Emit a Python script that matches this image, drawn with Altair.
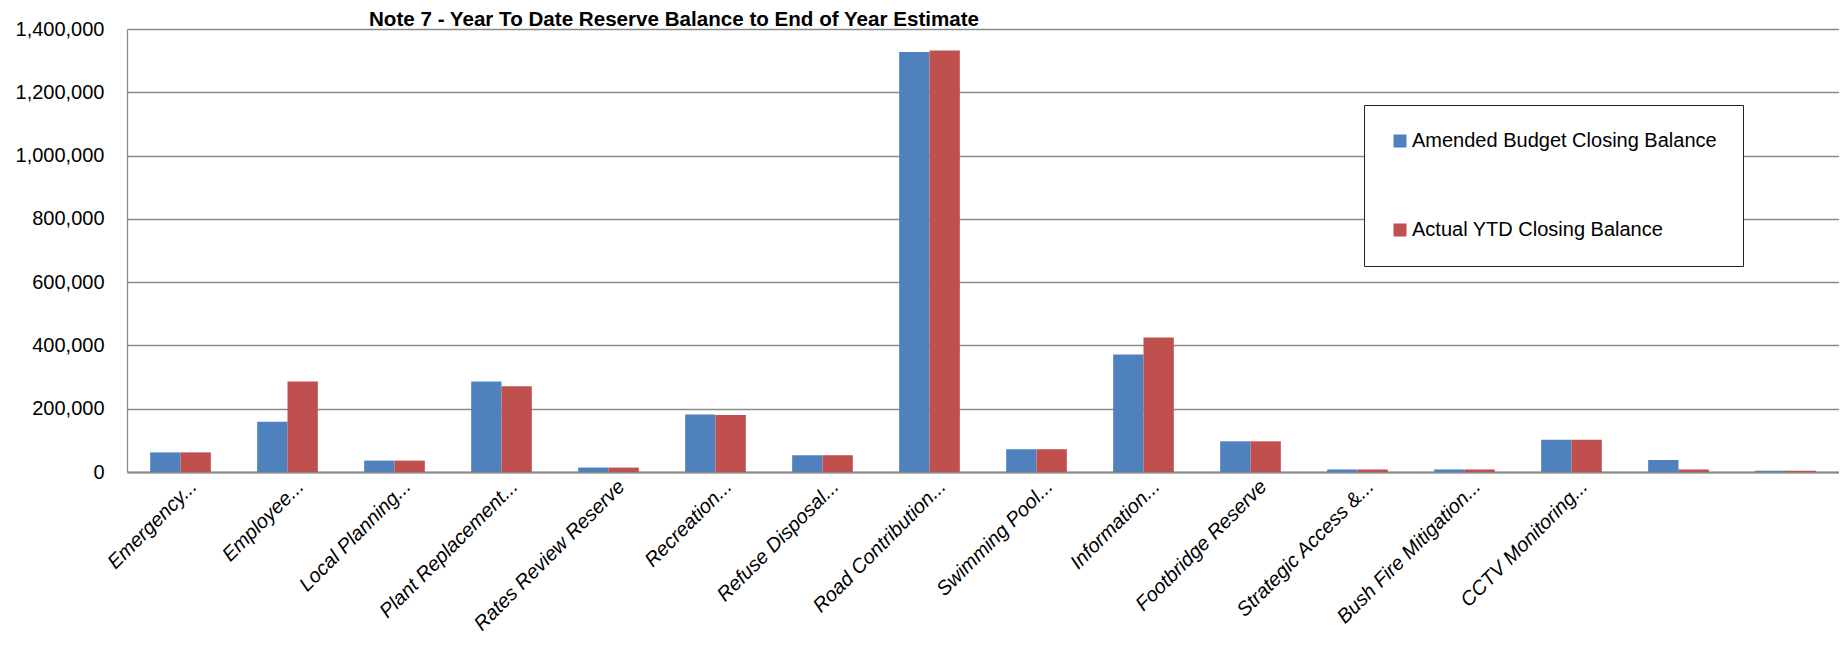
import json
import altair as alt
import pandas as pd

categories = [
    "Emergency...", "Employee...", "Local Planning...", "Plant Replacement...",
    "Rates Review Reserve", "Recreation...", "Refuse Disposal...", "Road Contribution...",
    "Swimming Pool...", "Information...", "Footbridge Reserve", "Strategic Access &...",
    "Bush Fire Mitigation...", "CCTV Monitoring...", "", "",
]
series = ["Amended Budget Closing Balance", "Actual YTD Closing Balance"]
budget = [62000, 159000, 36000, 286000, 14000, 182000, 53000, 1327000,
          72000, 371000, 97000, 8000, 8000, 102000, 38000, 4000]
actual = [62000, 286000, 36000, 271000, 14000, 180000, 53000, 1332000,
          72000, 425000, 97000, 8000, 8000, 102000, 8000, 4000]
colors = ["#4F81BD", "#C0504D"]
y_ticks = [0, 200000, 400000, 600000, 800000, 1000000, 1200000, 1400000]
title_text = "Note 7 - Year To Date Reserve Balance to End of Year Estimate"

rows = []
for i in range(len(categories)):
    rows.append({"idx": i, "series": series[0], "value": budget[i]})
    rows.append({"idx": i, "series": series[1], "value": actual[i]})
df = pd.DataFrame(rows)

FONT = "Liberation Sans"
GRID = "#8a8a8a"
label_expr = json.dumps(categories) + "[datum.value]"

chart = alt.Chart(df).mark_bar().encode(
    x=alt.X(
        "idx:O",
        scale=alt.Scale(paddingInner=0.433, paddingOuter=0.2165),
        axis=alt.Axis(
            title=None, labelExpr=label_expr, labelAngle=315, labelFontStyle="italic",
            labelFontSize=20, labelFont=FONT, labelColor="black", labelPadding=4,
            labelOffset=6, ticks=False, tickSize=0, domainColor=GRID, domainWidth=2,
            labelLimit=400,
        ),
    ),
    xOffset=alt.XOffset("series:N", sort=series, scale=alt.Scale(paddingInner=0, paddingOuter=0)),
    y=alt.Y(
        "value:Q",
        scale=alt.Scale(domain=[0, 1400000], nice=False),
        axis=alt.Axis(
            title=None, values=y_ticks, format=",d", labelFontSize=20, labelFont=FONT,
            labelColor="black", labelPadding=23, ticks=False, tickSize=0,
            gridColor=GRID, gridWidth=1.3, domainColor=GRID, domainWidth=1.3,
        ),
    ),
    color=alt.Color(
        "series:N", sort=series,
        scale=alt.Scale(domain=series, range=colors),
        legend=alt.Legend(
            title=None, orient="none", legendX=1237, legendY=76,
            labelFontSize=20, labelFont=FONT, labelColor="black", labelLimit=500,
            symbolType="square", symbolSize=169, symbolStrokeWidth=0,
            padding=26, rowPadding=69, strokeColor="#222222", fillColor="white",
            labelOffset=2,
        ),
    ),
).properties(
    width=1712,
    height=443,
    title=alt.TitleParams(
        text=title_text, fontSize=20.6, font=FONT, fontWeight="bold", color="black",
        anchor="start", frame="group", dx=242, dy=16, offset=4,
    ),
    autosize=alt.AutoSizeParams(type="none"),
    padding={"left": 119, "top": 21, "right": 0, "bottom": 162},
).configure_view(strokeWidth=0)

chart.save("out.html", embed_options={"renderer": "svg", "actions": False})
